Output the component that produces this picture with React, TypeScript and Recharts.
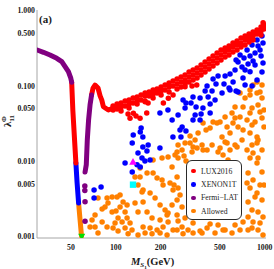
import { ScatterChart, Scatter, XAxis, YAxis, Legend } from 'recharts'

type Pt = [number, number]

// axis ticks
const X_TICKS = [50, 100, 200, 500, 1000]
const X_MINOR = [30, 40, 60, 70, 80, 90, 300, 400, 600, 700, 800, 900]
const Y_TICKS = [0.001, 0.005, 0.01, 0.05, 0.1, 0.5, 1]
const Y_MINOR = [
    0.002, 0.003, 0.004, 0.006, 0.007, 0.008, 0.009, 0.02, 0.03, 0.04, 0.06, 0.07, 0.08, 0.09, 0.2, 0.3,
    0.4, 0.6, 0.7, 0.8, 0.9,
]

const X_DOMAIN: [number, number] = [29.6, 1020]
const Y_DOMAIN: [number, number] = [0.00096, 1.02]

const LEGEND_LABELS = ['LUX2016', 'XENON1T', 'Fermi\u2212LAT', 'Allowed']

// resonance curve pieces (M_S1 in GeV, lambda)
const fermiLeft: Pt[] = [
    [29.7, 0.3], [32.7, 0.28], [36.2, 0.258], [40.2, 0.233], [43.4, 0.211], [45.7, 0.181],
    [48.1, 0.155], [49.9, 0.127], [50.6, 0.112],
]
const luxDrop: Pt[] = [[50.6, 0.112], [51.5, 0.048], [52.9, 0.0192], [54.0, 0.0095]]
const xenonDrop: Pt[] = [[54.0, 0.0095], [55.0, 0.0052], [56.3, 0.0028]]
const allowedDrop: Pt[] = [[56.3, 0.0028], [57.6, 0.00167], [58.9, 0.00102]]
const fermiRight: Pt[] = [[62.2, 0.0072], [63.4, 0.009], [64.4, 0.0192], [65.7, 0.0354], [67.2, 0.056], [68.8, 0.076]]
const fermiDots: Pt[] = [[62.0, 0.0047], [62.0, 0.0041], [62.2, 0.0029], [62.2, 0.0016]]
const luxPeak: Pt[] = [
    [68.8, 0.076], [70.4, 0.094], [72.6, 0.103], [76.0, 0.094], [78.5, 0.074], [80.6, 0.065],
    [82.6, 0.053], [89.2, 0.048], [95.4, 0.0506], [104, 0.056],
]

const luxBand: Pt[] = [
    [95.9, 0.0543], [95.9, 0.0481], [102, 0.0577], [102, 0.0496],
    [108.5, 0.0595], [108.5, 0.0527], [108.5, 0.0466], [115.5, 0.0633], [115.5, 0.0543],
    [122.8, 0.0652], [122.8, 0.0577], [122.8, 0.0511], [130.7, 0.0694], [130.7, 0.0595],
    [139, 0.0715], [139, 0.0633], [139, 0.0577], [147.8, 0.076], [147.8, 0.0652],
    [157.3, 0.0808], [157.3, 0.0737], [157.3, 0.0633], [167.3, 0.0833], [167.3, 0.0737],
    [178, 0.0886], [178, 0.0784], [178, 0.0694], [189.3, 0.0913], [189.3, 0.0808],
    [201.4, 0.0971], [201.4, 0.0859], [201.4, 0.076], [214.3, 0.1032], [214.3, 0.0886],
    [227.9, 0.1097], [227.9, 0.0971], [227.9, 0.0833], [242.4, 0.1166], [242.4, 0.1001],
    [257.9, 0.124], [257.9, 0.1064], [257.9, 0.0913], [274.4, 0.1318], [274.4, 0.1131], [274.4, 0.0971],
    [291.8, 0.14], [291.8, 0.12], [291.8, 0.1064], [310.4, 0.1535], [310.4, 0.1318], [310.4, 0.1131],
    [330.3, 0.163], [330.3, 0.14], [330.3, 0.12], [351.3, 0.1735], [351.3, 0.149], [351.3, 0.1278],
    [373.7, 0.19], [373.7, 0.163], [373.7, 0.14], [397.5, 0.2085], [397.5, 0.179], [397.5, 0.1535],
    [422.9, 0.2284], [422.9, 0.196], [422.9, 0.168], [449.8, 0.25], [449.8, 0.215], [449.8, 0.1845],
    [478.6, 0.2745], [478.6, 0.2355], [478.6, 0.202], [509, 0.301], [509, 0.258], [509, 0.2216],
    [541.6, 0.32], [541.6, 0.283], [541.6, 0.243], [576, 0.34], [576, 0.301], [576, 0.258],
    [612.6, 0.3725], [612.6, 0.33], [612.6, 0.283], [651.9, 0.396], [651.9, 0.3505], [651.9, 0.301],
    [693.3, 0.434], [693.3, 0.3725], [693.3, 0.33], [737.7, 0.461], [737.7, 0.408], [737.7, 0.3505],
    [784.6, 0.491], [784.6, 0.434], [784.6, 0.384], [834.7, 0.521], [834.7, 0.461], [834.7, 0.408],
    [887.8, 0.554], [887.8, 0.491], [944.5, 0.608], [944.5, 0.538], [944.5, 0.476],
    [975, 0.69], [989, 0.646], [989, 0.572],
]
const luxScatter: Pt[] = [
    [120.9, 0.0425], [124.7, 0.0373], [131.3, 0.0435], [136.8, 0.04], [145.6, 0.0373], [157.3, 0.062],
    [161.4, 0.0439], [164.8, 0.0595], [208.7, 0.0595], [225.4, 0.0688], [242.4, 0.076], [291.8, 0.098],
    [325.1, 0.1001], [349.7, 0.1032],
]

const xenonPts: Pt[] = [
    [974, 0.3725], [930, 0.301], [861, 0.2745], [797, 0.25], [761, 0.301], [822, 0.3505], [888, 0.408],
    [959, 0.461], [902, 0.34], [835, 0.215], [726, 0.2355], [773, 0.196], [945, 0.25], [662, 0.2085],
    [704, 0.179], [974, 0.202], [959, 0.1535], [888, 0.12], [822, 0.1001], [632, 0.163], [585, 0.1445],
    [542, 0.1358], [486, 0.1358], [450, 0.124], [471, 0.1064], [410, 0.1001], [398, 0.0859], [443, 0.0859],
    [417, 0.0715], [464, 0.0652], [517, 0.0808], [533, 0.1064], [576, 0.0942], [613, 0.1131], [642, 0.0859],
    [715, 0.1278], [738, 0.1032], [368, 0.0694], [330, 0.0715], [320, 0.0595], [296, 0.0595], [283, 0.0652],
    [292, 0.0511], [346, 0.0527], [385, 0.0511], [430, 0.0577], [374, 0.0425], [341, 0.0412], [430, 0.0439],
    [330, 0.0354], [368, 0.0354], [262, 0.0412], [239, 0.0354], [279, 0.0286], [296, 0.0253], [270, 0.0261],
    [242, 0.0211], [274, 0.0211], [224, 0.0481], [198, 0.0439], [148, 0.0277], [146, 0.0245], [131, 0.0224],
    [152, 0.0211], [129, 0.0175], [152, 0.0155], [165, 0.0165], [162, 0.0137], [141, 0.0129], [150, 0.0111],
    [157, 0.0101], [170, 0.0104], [198, 0.015], [115.5, 0.0095], [139, 0.009], [146, 0.0084], [129, 0.0072],
    [79.7, 0.00456], [71.5, 0.00417], [71.5, 0.00326], [585, 0.0886], [662, 0.0833],
    [683, 0.258], [642, 0.222], [861, 0.19], [797, 0.154], [738, 0.163],
]

const allowedPts: Pt[] = [
    // low-mass corner
    [76, 0.00326], [87.4, 0.00326], [94.5, 0.00337], [102, 0.00337], [88.7, 0.0028], [84.7, 0.00248],
    [81, 0.00233], [94.5, 0.00213], [72.6, 0.00194], [69.3, 0.00167], [67.2, 0.00134], [72.6, 0.00134],
    [76, 0.00112], [87.4, 0.00134], [95.9, 0.0013], [103.6, 0.00177], [100.4, 0.00219], [81, 0.00157],
    // middle
    [106.9, 0.00358], [112, 0.00289], [119.1, 0.00263], [106.9, 0.00248], [115.5, 0.00213], [119.1, 0.00177],
    [110.3, 0.00157], [124.7, 0.00152], [98.9, 0.00152], [115.5, 0.0013], [128.6, 0.00123], [103.6, 0.00119],
    [152.5, 0.00134], [169.9, 0.0013], [189.4, 0.00123], [207.7, 0.00134], [198.3, 0.00167], [175.2, 0.00177],
    [162.2, 0.00213], [152.5, 0.00289], [141.1, 0.00213], [134.7, 0.0028], [145.6, 0.00817], [178, 0.0104],
    [204.5, 0.01108], [224.5, 0.01143], [257.9, 0.01331], [261.9, 0.01108], [278.6, 0.01415], [287.3, 0.01178],
    [296.3, 0.0101], [315.3, 0.0175], [325.2, 0.01331], [162.2, 0.00701], [178, 0.00701], [189.4, 0.00601],
    [204.5, 0.00566], [207.7, 0.00485], [231.4, 0.00516], [242.4, 0.00417], [261.9, 0.00442], [270.1, 0.00358],
    [257.9, 0.00307], [278.6, 0.00248], [238.7, 0.00263], [214.3, 0.00226], [221, 0.00194], [198.3, 0.00263],
    [183.6, 0.00326], [169.9, 0.0038], [152.5, 0.00417], [141.1, 0.00485], [145.6, 0.0062], [134.7, 0.0062],
    [150.2, 0.00392], [242.4, 0.00123], [278.6, 0.00134], [305.6, 0.00123], [330.3, 0.00152], [224.5, 0.00157],
    [257.9, 0.00194], [291.8, 0.00177], [250, 0.01215], [238.7, 0.00842], [257.9, 0.0062], [246.1, 0.00485],
    [224.5, 0.00206], [261.9, 0.00162],
    // bottom row
    [141.1, 0.00105], [157.3, 0.00112], [175.2, 0.00109], [221, 0.00105], [257.9, 0.00123], [282.9, 0.00109],
    [330.3, 0.00112], [379.5, 0.00112], [410, 0.0013], [463.9, 0.00112], [486, 0.00143], [541.6, 0.00123],
    [603.3, 0.00112], [632, 0.00143], [682.8, 0.00123], [772.7, 0.00123], [901.7, 0.00123], [974, 0.00105],
    [368, 0.00119], [429.6, 0.00147], [525, 0.00123], [198.3, 0.00112], [121, 0.00109],
    // right side
    [261.9, 0.0165], [291.8, 0.0175], [330.3, 0.0155], [379.5, 0.0165], [410, 0.01415], [443.1, 0.0165],
    [501.2, 0.015], [541.6, 0.0181], [584.9, 0.01415], [632, 0.0165], [704.2, 0.0192], [760.8, 0.01415],
    [821.8, 0.0165], [901.7, 0.0192], [959.2, 0.01415], [796.8, 0.01108], [887.9, 0.00949], [959.2, 0.00722],
    [772.7, 0.00701], [834.6, 0.00566], [930, 0.00485], [796.8, 0.00442], [860.9, 0.00337], [959.2, 0.00307],
    [772.7, 0.00289], [821.8, 0.00226], [901.7, 0.00213], [772.7, 0.00182], [715.2, 0.00157], [834.6, 0.00157],
    [930, 0.00152], [760.8, 0.00516], [989, 0.00485], [887.9, 0.0038], [974, 0.00182], [821.8, 0.0013],
    // upper right
    [682.8, 0.0808], [737.7, 0.0694], [796.8, 0.076], [887.9, 0.0808], [959.2, 0.0694], [715.2, 0.0527],
    [821.8, 0.0511], [901.7, 0.056], [989, 0.0481], [682.8, 0.0388], [760.8, 0.0354], [860.9, 0.0333],
    [959.2, 0.0376], [989, 0.0286], [715.2, 0.0261], [796.8, 0.0238], [887.9, 0.0211], [662, 0.0286],
    [612.6, 0.0323], [584.9, 0.0238], [516.9, 0.0211], [558.6, 0.0175], [478.5, 0.0323], [429.6, 0.0277],
    [450, 0.0333], [385.4, 0.0323], [356.8, 0.0238], [340.6, 0.0192], [351.3, 0.015], [385.4, 0.01415],
    [486, 0.01331], [525, 0.01215], [567.3, 0.0104], [651.9, 0.0155], [887.9, 0.0175], [834.6, 0.01291],
    [901.7, 0.01108], [796.8, 0.0886], [834.6, 0.1032], [887.9, 0.1129], [959.2, 0.1032], [930, 0.0833],
    [632, 0.0527], [603.3, 0.0439], [541.6, 0.0388], [501.2, 0.0333], [632, 0.0376], [796.8, 0.0439],
    [930, 0.0452], [403.7, 0.0261], [558.6, 0.0286], [821.8, 0.0304], [315.3, 0.0217],
]

// benchmark points
const benchTriangle: Pt[] = [[130.6, 0.0098]]
const benchSquare: Pt[] = [[130.6, 0.0049]]
const benchGreen: Pt[] = [[59.1, 0.001]]

const RED = '#ff0000'
const BLUE = '#0000ff'
const PURPLE = '#800080'
const ORANGE = '#ff8000'
const LEGEND_COLORS = [RED, BLUE, PURPLE, ORANGE]
const FRAME = '#a6a6a6'
const SERIF = '"Liberation Serif", "Times New Roman", serif'

const toRows = (pts: Pt[]) => pts.map(([m, lam]) => ({ m, lam }))

const dot = (fill: string, r = 2.75) => (p: any) => <circle cx={p.cx} cy={p.cy} r={r} fill={fill} />
const noDot = () => <g />
const thick = (stroke: string) => ({ stroke, strokeWidth: 5, strokeLinecap: 'round', strokeLinejoin: 'round' })

const tickStyle = { fontSize: 7.8, fontFamily: SERIF, fontWeight: 'bold', fill: '#1a1a1a' }
const logAxis = { type: 'number' as const, scale: 'log' as const, allowDataOverflow: true }

function LegendBox() {
    return (
        <div
            style={{
                position: 'relative',
                width: 56,
                height: 60,
                boxSizing: 'border-box',
                border: '1px solid #2a2a2a',
                borderRadius: 6,
                background: '#fff',
                fontFamily: SERIF,
                fontSize: 7.7,
                color: '#1a1a1a',
            }}
        >
            {LEGEND_LABELS.map((label, i) => (
                <div key={label} style={{ position: 'absolute', left: 4, top: 5 + i * 13.4, height: 10, display: 'flex', alignItems: 'center' }}>
                    <span style={{ width: 4.6, height: 4.6, borderRadius: '50%', background: LEGEND_COLORS[i], display: 'inline-block' }} />
                    <span style={{ marginLeft: 5.5, whiteSpace: 'nowrap' }}>{label}</span>
                </div>
            ))}
        </div>
    )
}

export default function App() {
    return (
        <div style={{ position: 'absolute', left: 0, top: 0, background: '#fff' }}>
            <ScatterChart width={274} height={269} margin={{ top: 10, right: 8, left: 0, bottom: 0 }}>
                <XAxis
                    {...logAxis}
                    dataKey="m"
                    domain={X_DOMAIN}
                    ticks={X_TICKS}
                    interval={0}
                    height={31}
                    tickSize={0}
                    tickMargin={6}
                    tickLine={false}
                    axisLine={{ stroke: FRAME }}
                    tick={tickStyle}
                    label={() => (
                        <text x={131} y={265} fontFamily={SERIF} fontWeight="bold" fill="#1a1a1a" fontSize={10.5}>
                            <tspan fontStyle="italic">M</tspan>
                            <tspan fontStyle="italic" fontSize={7} dy={2}>S</tspan>
                            <tspan fontSize={5} dy={1.5}>1</tspan>
                            <tspan dy={-3.5}>(GeV)</tspan>
                        </text>
                    )}
                />
                <XAxis {...logAxis} xAxisId="bMaj" orientation="bottom" mirror height={0} domain={X_DOMAIN} ticks={X_TICKS} interval={0} tick={false} tickSize={4} axisLine={false} tickLine={{ stroke: FRAME }} />
                <XAxis {...logAxis} xAxisId="bMin" orientation="bottom" mirror height={0} domain={X_DOMAIN} ticks={X_MINOR} interval={0} tick={false} tickSize={2} axisLine={false} tickLine={{ stroke: FRAME }} />
                <XAxis {...logAxis} xAxisId="tMaj" orientation="top" mirror height={0} domain={X_DOMAIN} ticks={X_TICKS} interval={0} tick={false} tickSize={4} axisLine={{ stroke: FRAME }} tickLine={{ stroke: FRAME }} />
                <XAxis {...logAxis} xAxisId="tMin" orientation="top" mirror height={0} domain={X_DOMAIN} ticks={X_MINOR} interval={0} tick={false} tickSize={2} axisLine={false} tickLine={{ stroke: FRAME }} />
                <YAxis
                    {...logAxis}
                    dataKey="lam"
                    domain={Y_DOMAIN}
                    ticks={Y_TICKS}
                    interval={0}
                    width={37}
                    tickSize={0}
                    tickMargin={2}
                    tickLine={false}
                    axisLine={{ stroke: FRAME }}
                    tick={tickStyle}
                    tickFormatter={(v: number) => v.toFixed(3)}
                    label={() => (
                        <g fontFamily={SERIF} fontWeight="bold" fill="#1a1a1a">
                            <text transform="translate(11,121) rotate(-90)" textAnchor="middle">
                                <tspan fontSize={11}>λ</tspan>
                                <tspan fontSize={7} dy={2.5}>11</tspan>
                                <tspan fontSize={7} dx={-7} dy={-8}>Φ</tspan>
                            </text>
                            <text x={39} y={23} fontSize={11}>(a)</text>
                        </g>
                    )}
                />
                <YAxis {...logAxis} yAxisId="lMaj" orientation="left" mirror width={0} domain={Y_DOMAIN} ticks={Y_TICKS} interval={0} tick={false} tickSize={4} axisLine={false} tickLine={{ stroke: FRAME }} />
                <YAxis {...logAxis} yAxisId="lMin" orientation="left" mirror width={0} domain={Y_DOMAIN} ticks={Y_MINOR} interval={0} tick={false} tickSize={2} axisLine={false} tickLine={{ stroke: FRAME }} />
                <YAxis {...logAxis} yAxisId="rMaj" orientation="right" mirror width={0} domain={Y_DOMAIN} ticks={Y_TICKS} interval={0} tick={false} tickSize={4} axisLine={{ stroke: FRAME }} tickLine={{ stroke: FRAME }} />
                <YAxis {...logAxis} yAxisId="rMin" orientation="right" mirror width={0} domain={Y_DOMAIN} ticks={Y_MINOR} interval={0} tick={false} tickSize={2} axisLine={false} tickLine={{ stroke: FRAME }} />

                <Scatter name="Allowed" data={toRows(allowedPts)} shape={dot(ORANGE)} isAnimationActive={false} />
                <Scatter name="XENON1T" data={toRows(xenonPts)} shape={dot(BLUE)} isAnimationActive={false} />
                <Scatter name="LUX2016" data={toRows(luxBand)} shape={dot(RED)} isAnimationActive={false} />
                <Scatter data={toRows(luxScatter)} shape={dot(RED)} isAnimationActive={false} />

                <Scatter data={toRows(allowedDrop)} shape={noDot} line={thick(ORANGE)} isAnimationActive={false} />
                <Scatter data={toRows(xenonDrop)} shape={noDot} line={thick(BLUE)} isAnimationActive={false} />
                <Scatter data={toRows(luxDrop)} shape={noDot} line={thick(RED)} isAnimationActive={false} />
                <Scatter data={toRows(luxPeak)} shape={noDot} line={thick(RED)} isAnimationActive={false} />
                <Scatter name="Fermi-LAT" data={toRows(fermiLeft)} shape={noDot} line={thick(PURPLE)} isAnimationActive={false} />
                <Scatter data={toRows(fermiRight)} shape={noDot} line={thick(PURPLE)} isAnimationActive={false} />
                <Scatter data={toRows(fermiDots)} shape={dot(PURPLE)} isAnimationActive={false} />

                <Scatter
                    data={toRows(benchTriangle)}
                    isAnimationActive={false}
                    shape={(p: any) => (
                        <polygon points={`${p.cx},${p.cy - 4} ${p.cx - 3.8},${p.cy + 2.8} ${p.cx + 3.8},${p.cy + 2.8}`} fill="#ff00ff" />
                    )}
                />
                <Scatter
                    data={toRows(benchSquare)}
                    isAnimationActive={false}
                    shape={(p: any) => <rect x={p.cx - 3.2} y={p.cy - 3.2} width={6.4} height={6.4} fill="#00ffff" />}
                />
                <Scatter
                    data={toRows(benchGreen)}
                    isAnimationActive={false}
                    shape={(p: any) => (
                        <polygon points={`${p.cx - 3.5},${p.cy - 2.8} ${p.cx + 3.5},${p.cy - 2.8} ${p.cx},${p.cy + 3.5}`} fill="#00dd00" />
                    )}
                />

                <Legend
                    layout="vertical"
                    align="center"
                    verticalAlign="middle"
                    wrapperStyle={{ left: 186, top: 160, width: 56, height: 60 }}
                    content={() => <LegendBox />}
                />
            </ScatterChart>
        </div>
    )
}
